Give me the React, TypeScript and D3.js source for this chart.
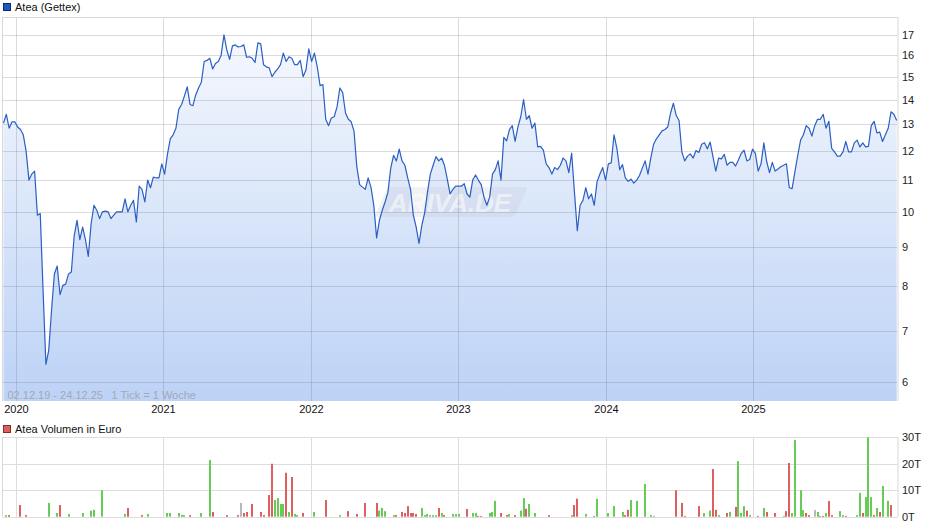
import React from 'react';
import * as d3 from 'd3';

// ---------- data ----------
const startDate = new Date(2019, 11, 2); // 02.12.19
const endDate = new Date(2025, 11, 24); // 24.12.25
const yearTicks = [2020, 2021, 2022, 2023, 2024, 2025];
const priceTicks = [6, 7, 8, 9, 10, 11, 12, 13, 14, 15, 16, 17];
const volumeTicks = [0, 10, 20, 30];
const volumeTickLabels = ['0T', '10T', '20T', '30T'];

// weekly closes (EUR), starting 02.12.2019
const prices = [
  13.05, 13.4, 12.85, 13.1, 13.1, 12.9, 12.8, 12.6, 12.0, 11.0,
  11.2, 11.3, 9.9, 9.95, 7.9, 6.33, 6.6, 7.45, 8.3, 8.5,
  7.8, 8.02, 8.05, 8.3, 8.35, 9.3, 9.75, 9.2, 9.55, 9.2,
  8.75, 9.65, 10.2, 10.05, 9.8, 10.0, 10.02, 10.0, 9.8, 9.9,
  10.0, 10.0, 10.0, 10.4, 10.0, 10.2, 10.35, 9.7, 10.8, 10.7,
  10.3, 11.0, 10.75, 11.1, 11.07, 11.07, 11.55, 11.2, 11.88, 12.45,
  12.6, 12.85, 13.6, 13.8, 14.15, 14.55, 13.8, 13.75, 14.2, 14.5,
  14.75, 15.7, 15.75, 15.85, 15.35, 15.6, 15.7, 16.0, 17.0, 16.25,
  15.8, 16.45, 16.5, 16.4, 16.42, 16.5, 15.9, 15.92, 15.85, 15.65,
  16.6, 16.55, 15.55, 15.45, 15.4, 15.0, 15.2, 15.35, 15.55, 16.1,
  15.7, 15.92, 15.85, 15.55, 15.55, 15.75, 15.0, 15.3, 16.3, 15.7,
  16.1, 15.45, 14.6, 14.65, 13.2, 12.95, 13.25, 13.3, 13.7, 14.5,
  14.3, 13.45, 13.2, 13.1, 12.75, 11.45, 10.85, 10.77, 10.7, 11.07,
  10.77, 10.2, 9.25, 9.75, 10.05, 10.3, 10.6, 11.4, 11.85, 11.65,
  12.07, 11.65, 11.5, 11.07, 10.7, 9.9, 9.55, 9.1, 9.6, 9.97,
  10.6, 11.2, 11.5, 11.8, 11.65, 11.75, 11.5, 11.03, 10.55, 10.7,
  10.8, 10.8, 10.8, 10.88, 10.55, 10.45, 11.0, 11.17, 11.0, 10.85,
  10.45, 10.2, 10.45, 11.2, 11.35, 11.65, 11.0, 12.5, 12.37, 12.8,
  12.95, 12.35, 12.9, 13.3, 14.0, 13.2, 13.35, 12.85, 13.05, 12.15,
  12.17, 12.03, 11.55, 11.42, 11.2, 11.42, 11.35, 11.5, 11.75, 11.65,
  11.25, 11.93, 10.6, 9.45, 10.2, 10.35, 10.75, 10.4, 10.55, 10.2,
  10.95, 11.2, 11.42, 11.0, 11.55, 11.58, 12.6, 12.1, 11.35, 11.52,
  11.07, 10.96, 11.03, 10.9, 11.0, 11.15, 11.4, 11.65, 11.2, 11.75,
  12.25, 12.45, 12.6, 12.75, 12.8, 12.9, 13.45, 13.85, 13.35, 13.15,
  11.97, 11.65, 11.82, 11.9, 11.75, 12.02, 11.95, 12.25, 12.3, 12.08,
  12.33, 11.8, 11.3, 11.75, 11.72, 11.88, 11.5, 11.6, 11.6, 11.47,
  11.68, 11.92, 12.03, 11.65, 11.7, 12.07, 11.92, 11.3, 11.55, 12.3,
  11.63, 11.25, 11.6, 11.3, 11.37, 11.45, 11.5, 11.55, 10.75, 10.72,
  11.28, 11.85, 12.4, 12.6, 12.95, 12.85, 12.55, 12.95, 13.2, 13.2,
  13.4, 12.85, 13.12, 12.1, 11.97, 11.82, 11.82, 11.97, 12.35, 11.97,
  11.97, 12.3, 12.4, 12.15, 12.3, 12.15, 12.17, 12.95, 13.12, 12.67,
  12.7, 12.35, 12.6, 12.85, 13.5, 13.4, 13.15,
];

// weekly volume (thousand EUR): week index, value, direction (u = up, d = down, n = unchanged)
const volWeek = [
  1, 2, 6, 8, 16, 19, 20, 23, 28, 31, 32, 35, 43, 44, 49, 51, 58, 59, 62, 63,
  64, 66, 70, 73, 74, 79, 83, 84, 85, 86, 88, 91, 92, 94, 95, 96, 97, 98, 99, 100,
  101, 102, 103, 104, 106, 110, 114, 119, 122, 125, 128, 132, 133, 134, 135, 138, 139, 141, 142, 143,
  144, 145, 146, 148, 149, 150, 151, 152, 153, 154, 155, 156, 159, 160, 161, 164, 166, 167, 168, 169,
  172, 173, 174, 176, 178, 179, 181, 183, 184, 185, 186, 188, 193, 201, 202, 203, 206, 209, 210, 214,
  216, 219, 220, 221, 222, 224, 227, 229, 230, 238, 240, 241, 246, 248, 250, 251, 252, 253, 256, 257,
  259, 260, 261, 262, 263, 264, 267, 269, 270, 273, 276, 277, 278, 279, 280, 282, 283, 284, 285, 287,
  288, 289, 290, 291, 292, 293, 296, 297, 298, 302, 303, 304, 305, 306, 307, 308, 309, 310, 311, 313,
  314,
];
const volValue = [
  0.6, 0.6, 4.4, 0.6, 5.2, 1.4, 4.4, 1.0, 1.4, 2.3, 2.6, 10.0, 1.0, 3.3, 0.6, 1.0, 1.4, 1.4, 1.4, 0.7,
  0.6, 0.6, 1.4, 21.4, 1.8, 0.6, 0.6, 5.2, 1.4, 1.8, 4.8, 1.8, 0.6, 8.2, 20.0, 6.3, 7.0, 4.8, 4.8, 16.6,
  1.8, 15.0, 1.0, 0.6, 1.4, 1.8, 6.3, 0.6, 2.1, 1.0, 5.2, 5.2, 2.3, 3.3, 2.1, 0.6, 0.6, 1.8, 1.4, 4.0,
  1.4, 1.4, 1.0, 3.3, 0.6, 1.0, 0.6, 0.6, 0.6, 3.3, 1.4, 0.6, 1.0, 1.0, 1.0, 2.9, 1.4, 1.4, 0.3, 0.3,
  1.4, 1.8, 6.0, 1.4, 0.6, 1.0, 0.6, 2.3, 7.0, 3.0, 4.8, 1.4, 0.6, 0.6, 4.4, 6.8, 1.0, 0.3, 6.8, 1.4,
  4.0, 1.8, 0.6, 2.6, 6.3, 6.0, 12.4, 0.6, 0.3, 10.0, 5.2, 0.3, 4.0, 1.4, 2.3, 18.0, 2.6, 0.6, 1.4, 1.8,
  3.7, 21.0, 1.4, 4.0, 2.3, 0.6, 0.3, 3.3, 1.8, 1.4, 0.3, 2.1, 20.3, 1.4, 29.0, 10.0, 2.5, 1.4, 0.6, 2.5,
  1.8, 0.3, 0.3, 1.4, 5.9, 0.6, 2.1, 0.6, 0.3, 0.6, 9.0, 1.4, 7.4, 30.0, 7.4, 0.6, 3.3, 1.8, 11.6, 6.0,
  4.4,
];
const volDir = [
  'u', 'd', 'd', 'd', 'u', 'u', 'd', 'u', 'u', 'u', 'u', 'u', 'u', 'd', 'd', 'u', 'u', 'u', 'u', 'u',
  'u', 'd', 'u', 'u', 'd', 'd', 'd', 'n', 'd', 'd', 'd', 'd', 'd', 'd', 'd', 'u', 'u', 'u', 'u', 'd',
  'u', 'd', 'u', 'u', 'd', 'u', 'd', 'u', 'd', 'd', 'd', 'd', 'u', 'u', 'u', 'u', 'd', 'd', 'd', 'd',
  'd', 'd', 'd', 'u', 'u', 'u', 'u', 'u', 'u', 'd', 'u', 'd', 'u', 'u', 'u', 'd', 'u', 'u', 'd', 'd',
  'u', 'u', 'u', 'd', 'd', 'u', 'd', 'u', 'u', 'd', 'u', 'u', 'd', 'u', 'd', 'd', 'u', 'd', 'u', 'u',
  'u', 'u', 'd', 'd', 'u', 'u', 'u', 'u', 'u', 'd', 'd', 'd', 'd', 'u', 'u', 'd', 'd', 'u', 'd', 'u',
  'd', 'u', 'u', 'u', 'd', 'u', 'd', 'u', 'd', 'd', 'u', 'd', 'd', 'u', 'u', 'u', 'u', 'd', 'd', 'n',
  'u', 'd', 'd', 'u', 'd', 'd', 'u', 'u', 'd', 'u', 'u', 'd', 'u', 'u', 'u', 'd', 'u', 'd', 'u', 'u',
  'd',
];

// ---------- chart ----------
const FONT = '"Liberation Sans", Arial, Helvetica, sans-serif';
const weekDate = (i: number) => d3.timeDay.offset(startDate, 7 * i);

export default function App() {
  const W = 940;
  const H = 526;
  const left = 2.5;
  const right = 897.5;
  const top = 17;
  const bottom = 401;
  const vTop = 437.3;
  const vBottom = 516.7;

  const x = d3.scaleTime().domain([startDate, endDate]).range([3.5, 897.5]);
  const y = d3.scaleLog().domain([5.67, 17.94]).range([bottom, top]);
  const yv = d3.scaleLinear().domain([0, 30]).range([vBottom, vTop]);

  const line = d3
    .line<number>()
    .x((_, i) => x(weekDate(i)))
    .y((d) => y(d));
  const area = d3
    .area<number>()
    .x((_, i) => x(weekDate(i)))
    .y0(bottom)
    .y1((d) => y(d));

  const crisp = (v: number) => Math.round(v) + 0.5;
  const gridColor = 'rgba(110,110,120,0.25)';
  const yearX = yearTicks.map((yr) => crisp(x(new Date(yr, 0, 1))));
  const dirColor: Record<string, string> = { u: '#66cc55', d: '#dd5f5f', n: '#b8b8b8' };

  return (
    <svg
      width={W}
      height={H}
      style={{ position: 'absolute', left: 0, top: 0, background: '#fff' }}
      fontFamily={FONT}
    >
      <defs>
        <linearGradient id="areaGrad" gradientUnits="userSpaceOnUse" x1="0" y1={top} x2="0" y2={bottom}>
          <stop offset="0%" stopColor="#f8fafe" />
          <stop offset="100%" stopColor="#bcd2f6" />
        </linearGradient>
      </defs>

      {/* legend price */}
      <rect x={3.5} y={3.5} width={7} height={7} fill="#1f56c4" stroke="#0c2a6a" strokeWidth={1} />
      <text x={15} y={11} fontSize={11} fill="#111">Atea (Gettex)</text>

      {/* price area */}
      <path d={area(prices) || ''} fill="url(#areaGrad)" />

      {/* watermark */}
      <g>
        <path
          d="M 392 187 L 524 187 Q 528 187 526 191 L 516 213 Q 514 217 510 217 L 378 217 Q 374 217 376 213 L 386 191 Q 388 187 392 187 Z"
          fill="rgba(190,195,205,0.22)"
        />
        <text
          x={450}
          y={212}
          textAnchor="middle"
          fontSize={26}
          fontWeight="bold"
          fontStyle="italic"
          fill="rgba(255,255,255,0.55)"
        >
          ARIVA.DE
        </text>
      </g>

      {/* price gridlines */}
      {priceTicks.map((t) => (
        <line key={'h' + t} x1={left} x2={right} y1={crisp(y(t))} y2={crisp(y(t))} stroke={gridColor} />
      ))}
      {yearX.map((xx, i) => (
        <line key={'v' + i} x1={xx} x2={xx} y1={top} y2={bottom} stroke={gridColor} />
      ))}
      <line x1={left} x2={right} y1={top + 0.5} y2={top + 0.5} stroke="#d8d8d8" />
      <line x1={left} x2={left} y1={top} y2={bottom} stroke="#d8d8d8" />
      <line x1={right + 0.5} x2={right + 0.5} y1={top} y2={bottom} stroke="#d8d8d8" />

      {/* price line */}
      <path d={line(prices) || ''} fill="none" stroke="#2b5fc2" strokeWidth={1.2} strokeLinejoin="round" />

      {/* info text */}
      <text x={7.5} y={399} fontSize={11} fill="#a3a9b3">02.12.19 - 24.12.25</text>
      <text x={111.5} y={399} fontSize={11} fill="#a3a9b3">1 Tick = 1 Woche</text>

      {/* price axis labels */}
      {priceTicks.map((t) => (
        <text key={'yl' + t} x={902} y={y(t) + 4} fontSize={11} fill="#222">
          {t}
        </text>
      ))}
      {/* year labels */}
      {yearTicks.map((yr, i) => (
        <text key={'xl' + yr} x={yearX[i]} y={413} fontSize={11} fill="#111" textAnchor="middle">
          {yr}
        </text>
      ))}

      {/* legend volume */}
      <rect x={3.5} y={425.5} width={7} height={7} fill="#dd5f5f" stroke="#8a2a2a" strokeWidth={1} />
      <text x={15} y={433} fontSize={11} fill="#111">Atea Volumen in Euro</text>

      {/* volume gridlines */}
      {volumeTicks.map((t) => (
        <line key={'vh' + t} x1={left} x2={right} y1={crisp(yv(t))} y2={crisp(yv(t))} stroke="#dddddd" />
      ))}
      {yearX.map((xx, i) => (
        <line key={'vv' + i} x1={xx} x2={xx} y1={vTop} y2={vBottom} stroke="#dddddd" />
      ))}
      <line x1={left} x2={left} y1={vTop} y2={vBottom} stroke="#d8d8d8" />
      <line x1={right + 0.5} x2={right + 0.5} y1={vTop} y2={vBottom} stroke="#d8d8d8" />

      {/* volume bars */}
      {volWeek.map((w, k) => {
        const cx = x(weekDate(w));
        const y0 = yv(0);
        const y1 = yv(volValue[k]);
        return (
          <rect
            key={'b' + k}
            x={Math.round(cx) - 1}
            y={y1}
            width={2}
            height={Math.max(0.8, y0 - y1)}
            fill={dirColor[volDir[k]]}
          />
        );
      })}

      {/* volume axis labels */}
      {volumeTicks.map((t, i) => (
        <text key={'vl' + t} x={902} y={yv(t) + 4} fontSize={11} fill="#222">
          {volumeTickLabels[i]}
        </text>
      ))}
    </svg>
  );
}
